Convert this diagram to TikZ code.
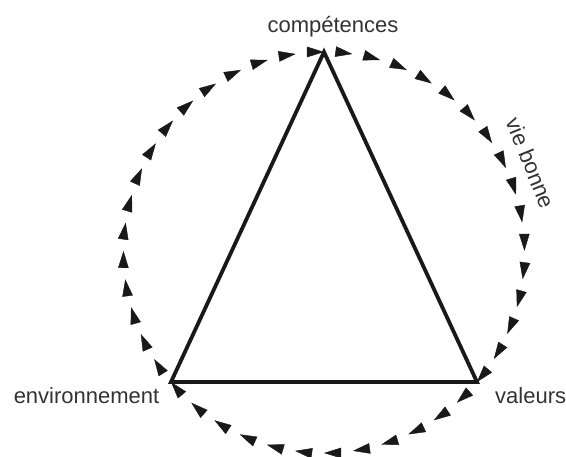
\documentclass[tikz,border=0pt]{standalone}
\usepackage{fontspec}
\setmainfont{Liberation Sans}
\usetikzlibrary{arrows.meta,decorations.markings}
\tikzset{
  lbl/.style={font=\fontsize{22}{26}\selectfont, text=black!80, inner sep=0pt},
  tri/.style={line width=3.8pt, line join=miter, draw=black!90},
  arrowarc/.style={decoration={markings,
      mark=between positions 0 and {1-#1/2} step #1 with {\arrowreversed[black!90]{Triangle[length=17pt,width=10.5pt]}}},
    postaction=decorate},
}
\begin{document}
\begin{tikzpicture}[x=1pt,y=-1pt]
\useasboundingbox (0,0) rectangle (566,457);
\coordinate (O) at (324,252.5);
\coordinate (C) at (324,52);
\coordinate (V) at (477,382);
\coordinate (E) at (171,382);
% triangle
\draw[tri] (C) -- (V) -- (E) -- cycle;
% arrow arcs (clockwise flow)
\path[arrowarc=0.0625] (V) arc[start angle=40.24, end angle=-90, radius=200.5];
\path[arrowarc=0.083333] (E) arc[start angle=139.76, end angle=40.24, radius=200.5];
\path[arrowarc=0.0625] (C) arc[start angle=270, end angle=139.76, radius=200.5];
% labels
\node[lbl, anchor=base] (lc) at (333,33) {compétences};
\node[lbl, anchor=base east] (le) at (159.5,404) {environnement};
\node[lbl, anchor=base west] (lv) at (495,404) {valeurs};
\node[lbl, rotate=-68] (lb) at (531,163) {vie bonne};
\end{tikzpicture}
\end{document}
